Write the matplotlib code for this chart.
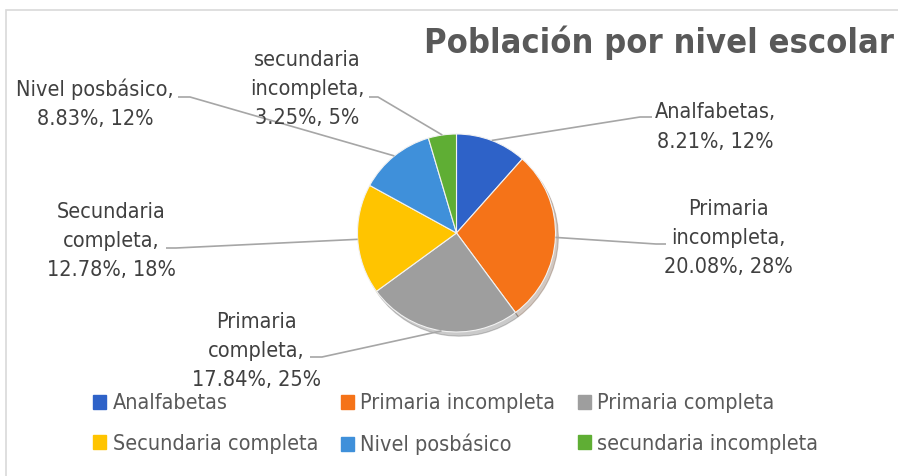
import numpy as np
import matplotlib.pyplot as plt
from matplotlib.patches import Rectangle, Patch

# datos del grafico
categorias = ['Analfabetas', 'Primaria incompleta', 'Primaria completa',
              'Secundaria completa', 'Nivel posbásico', 'secundaria incompleta']
porcentajes = [8.21, 20.08, 17.84, 12.78, 8.83, 3.25]
colores = ['#2E62C8', '#F57318', '#9E9E9E', '#FFC400', '#3F90DA', '#5FAE34']
# como se parte el nombre en la etiqueta
nombres_etiqueta = ['Analfabetas,', 'Primaria\nincompleta,', 'Primaria\ncompleta,',
                    'Secundaria\ncompleta,', 'Nivel posbásico,', 'secundaria\nincompleta,']

W, H = 898, 476
plt.rcParams['font.family'] = ['DejaVu Sans']
plt.rcParams['font.stretch'] = 'condensed'

# layout en pixeles de la imagen (y hacia abajo)
centro = (456.5, 233)
radio = 99
pos_texto = [(715, 127), (728, 238), (256, 351), (111, 241), (95, 104), (307, 89)]
codos = [((640, 117), (652, 117)),
         ((656, 244), (666, 244)),
         ((322, 357), (310, 357)),
         ((176, 248), (166, 248)),
         ((190, 97), (178, 97)),
         ((378, 97), (369, 97))]

fig = plt.figure(figsize=(W / 100, H / 100), dpi=100)
ax = fig.add_axes([0, 0, 1, 1])

total = sum(porcentajes)
partes = [round(v / total * 100) for v in porcentajes]

wedges, _ = ax.pie(porcentajes, colors=colores, startangle=90, counterclock=False,
                   center=(centro[0], H - centro[1]), radius=radio,
                   wedgeprops=dict(edgecolor='#F2F2F2', linewidth=0.8),
                   shadow={'ox': 2, 'oy': -3, 'alpha': 0.25})

for w, nom, v, p, (tx, ty), (c1, c2) in zip(wedges, nombres_etiqueta, porcentajes,
                                             partes, pos_texto, codos):
    ang = np.radians((w.theta1 + w.theta2) / 2)
    ex = centro[0] + radio * np.cos(ang)
    ey = (H - centro[1]) + radio * np.sin(ang)
    ax.plot([ex, c1[0], c2[0]], [ey, H - c1[1], H - c2[1]], color='#A6A6A6',
            lw=1.2, solid_capstyle='butt', zorder=1)
    ax.text(tx, H - ty, f'{nom}\n{v:.2f}%, {p}%', ha='center', va='center',
            multialignment='center', fontsize=15.5, color='#404040', linespacing=1.58)

ax.set_xlim(0, W)
ax.set_ylim(0, H)
ax.set_aspect('auto')
ax.axis('off')

# marco del area del grafico (sin borde derecho ni inferior visibles)
fig.patches.append(Rectangle((6 / W, -0.05), 1.1, (H - 10) / H + 0.05,
                             transform=fig.transFigure, fill=False,
                             edgecolor='#D9D9D9', lw=1.2))

fig.text(894 / W, 1 - 43 / H, 'Población por nivel escolar', ha='right', va='center',
         fontsize=24.7, fontweight='bold', color='#595959')

orden = [0, 3, 1, 4, 2, 5]
handles = [Patch(facecolor=colores[i], edgecolor=colores[i]) for i in orden]
fig.legend(handles, [categorias[i] for i in orden], ncol=3, frameon=False,
           loc='upper left', bbox_to_anchor=(74 / W, 1 - 374 / H),
           fontsize=15.5, labelcolor='#595959', handlelength=0.6, handleheight=0.6,
           handletextpad=0.3, columnspacing=1.05, labelspacing=0.95)

fig.savefig('out.png', dpi=100)
